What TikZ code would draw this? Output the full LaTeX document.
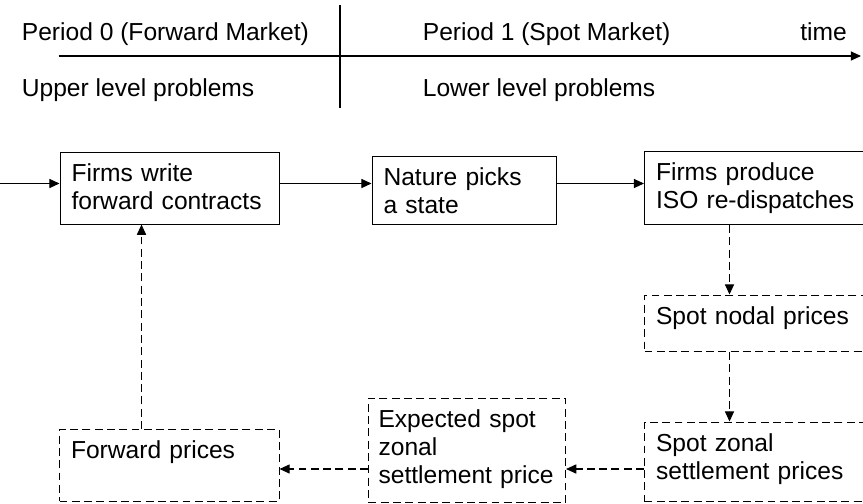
\documentclass[tikz,border=0pt]{standalone}
\usepackage{fontspec}
\setmainfont{Liberation Sans}
\usetikzlibrary{arrows.meta}

\tikzset{
  stage/.style={draw, line width=0.6pt, anchor=north west, align=left,
    inner xsep=0.23cm, inner ysep=0pt, text height=0.58cm},
  pricebox/.style={stage, dash pattern=on 4.5pt off 2.5pt},
  flow/.style={line width=0.6pt, -{Triangle[length=5.8pt,width=5.2pt]}},
  feedback/.style={flow, dash pattern=on 4.5pt off 2.5pt},
  axislbl/.style={anchor=base west, inner sep=0pt}
}

\begin{document}
\begin{tikzpicture}[font=\fontsize{14}{16.15}\selectfont]
\clip (0,0) rectangle (17.26,10.06);

% Time axis and divider
\coordinate (axisstart) at (1.17,8.94);
\coordinate (axisend) at (17.22,8.94);
\draw[flow] (axisstart) -- (axisend);
\draw[line width=0.6pt] (6.8,9.96) -- (6.8,7.9);

% Axis labels
\node[axislbl] (p0) at (0.43,9.26) {Period 0 (Forward Market)};
\node[axislbl] (p1) at (8.45,9.26) {Period 1 (Spot Market)};
\node[axislbl] (timelbl) at (16.0,9.26) {time};
\node[axislbl] (upper) at (0.43,8.13) {Upper level problems};
\node[axislbl] (lower) at (8.45,8.13) {Lower level problems};

% Stages
\node[stage, text width=3.93cm, text depth=0.86cm] (fwd) at (1.19,7.03) {Firms write\\forward contracts};
\node[stage, text width=3.23cm, text depth=0.79cm] (nature) at (7.43,6.95) {Nature picks\\a state};
\node[stage, text width=4.66cm, text depth=0.88cm] (produce) at (12.88,7.04) {Firms produce\\ISO re-dispatches};

% Prices
\node[pricebox, text width=4.66cm, text depth=0.55cm] (nodal) at (12.88,4.17) {Spot nodal prices};
\node[pricebox, text width=4.66cm, text depth=1.01cm] (zonal) at (12.88,1.63) {Spot zonal\\settlement prices};
\node[pricebox, inner xsep=0.2cm, text width=3.54cm, text depth=1.51cm] (expected) at (7.36,2.11) {Expected spot\\zonal\\settlement price};
\node[pricebox, text width=3.93cm, text depth=0.85cm] (fprices) at (1.18,1.48) {Forward prices};

% Guides for the connectors
\coordinate (entry) at (0,6.39);
\coordinate (rcol) at (14.59,0);
\coordinate (lcol) at (2.83,0);
\coordinate (lowrow) at (0,0.68);

% Solid flow
\draw[flow] (entry) -- (entry -| fwd.west);
\draw[flow] (fwd.east |- entry) -- (nature.west |- entry);
\draw[flow] (nature.east |- entry) -- (produce.west |- entry);

% Dashed price feedback
\draw[feedback] (produce.south -| rcol) -- (nodal.north -| rcol);
\draw[feedback] (nodal.south -| rcol) -- (zonal.north -| rcol);
\draw[feedback] (zonal.west |- lowrow) -- (expected.east |- lowrow);
\draw[feedback] (expected.west |- lowrow) -- (fprices.east |- lowrow);
\draw[feedback] (fprices.north -| lcol) -- (fwd.south -| lcol);
\end{tikzpicture}
\end{document}
